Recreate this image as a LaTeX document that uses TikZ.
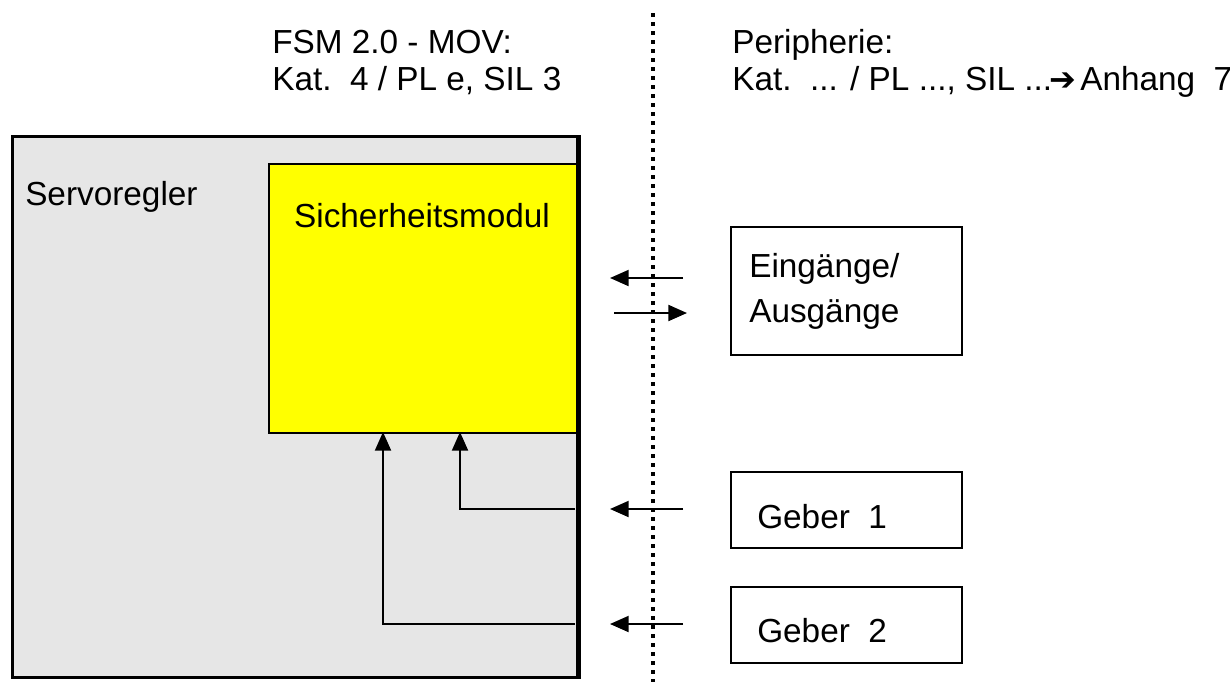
\documentclass[tikz,border=0pt]{standalone}
\usepackage{fontspec}
\setmainfont{Liberation Sans}
\newfontfamily\symfont{DejaVu Sans}
\usetikzlibrary{arrows.meta}
\definecolor{servogrey}{HTML}{E6E6E6}
\definecolor{safeyellow}{HTML}{FFFF00}
\begin{document}
\begin{tikzpicture}[x=0.75pt,y=-0.75pt,
  txt/.style={anchor=base west,inner sep=0pt,font=\fontsize{25}{29}\selectfont},
  ctxt/.style={anchor=base,inner sep=0pt,font=\fontsize{25}{29}\selectfont},
  periph/.style={draw,line width=1.3pt,fill=white,anchor=north west,inner sep=0pt,minimum width=173.25pt},
  conn/.style={line width=1.5pt,-{Triangle[length=14pt,width=12pt]}},
  sig/.style={line width=1.5pt,-{Triangle[length=14pt,width=12pt]}},
]
\useasboundingbox (0,0) rectangle (1230,682);

% Servoregler outer box
\node[draw,line width=2.4pt,fill=servogrey,anchor=north west,inner sep=0pt,
      minimum width=423.75pt,minimum height=405.75pt] (servo) at (11,135) {};
% Sicherheitsmodul
\node[draw,line width=1.5pt,fill=safeyellow,anchor=north west,inner sep=0pt,
      minimum width=231pt,minimum height=201.75pt] (sich) at (268,163) {};
% redraw right border of servo on top
\draw[line width=2.4pt] (servo.north east) -- (servo.south east);

\node[txt] (servotxt) at (25,205) {Servoregler};
\node[ctxt] (sichtxt) at (422,227) {Sicherheitsmodul};

% header texts
\node[txt] (fsm1) at (272,53) {FSM 2.0 - MOV:};
\node[txt] (fsm2) at (272,90) {Kat.~~4 / PL e, SIL 3};
\node[txt] (per1) at (732,53) {Peripherie:};
\node[txt] (per2) at (732,90) {Kat.~~... / PL ..., SIL ...\kern-2pt{\symfont\bfseries\fontsize{24}{29}\selectfont ➔}\kern3pt Anhang~~7};

% dotted separator
\coordinate (sepA) at (653,13);
\coordinate (sepB) at (653,682);
\draw[line width=3pt,dash pattern=on 3pt off 3.75pt] (sepA) -- (sepB);

% peripheral boxes
\node[periph,minimum height=96pt] (io) at (730,226) {};
\node[periph,minimum height=57pt] (g1) at (730,471) {};
\node[periph,minimum height=57pt] (g2) at (730,586) {};
\node[txt] (iotxt1) at (749,277) {Eingänge/};
\node[txt] (iotxt2) at (749,322) {Ausgänge};
\node[txt] (g1txt) at (757,528) {Geber~~1};
\node[txt] (g2txt) at (757,642) {Geber~~2};

% signal arrows across the boundary
\coordinate (a1s) at (683,278); \coordinate (a1e) at (610,278);
\coordinate (a2s) at (614,313); \coordinate (a2e) at (687,313);
\coordinate (a3s) at (683,509); \coordinate (a3e) at (610,509);
\coordinate (a4s) at (683,624); \coordinate (a4e) at (610,624);
\draw[sig] (a1s) -- (a1e);
\draw[sig] (a2s) -- (a2e);
\draw[sig] (a3s) -- (a3e);
\draw[sig] (a4s) -- (a4e);

% internal connectors
\coordinate (c1) at (575,509); \coordinate (t1) at (460,432);
\coordinate (c2) at (575,624); \coordinate (t2) at (383,432);
\draw[conn] (c1) -| (t1);
\draw[conn] (c2) -| (t2);
\end{tikzpicture}
\end{document}
